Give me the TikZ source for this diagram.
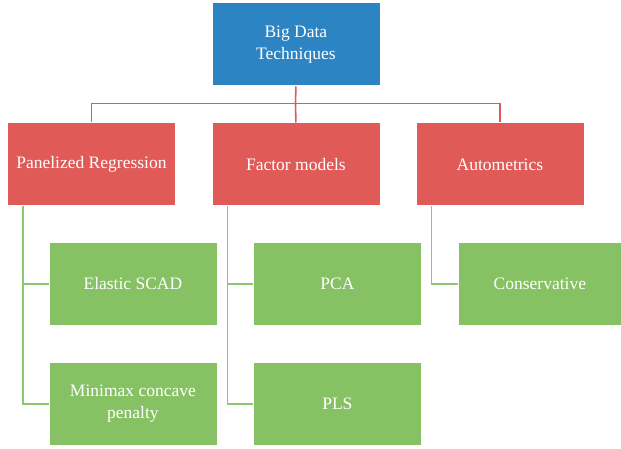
\documentclass[tikz,border=0pt]{standalone}
\usepackage{fontspec}
\setmainfont{Liberation Serif}
\definecolor{topblue}{HTML}{2C84C3}
\definecolor{boxred}{HTML}{E05A57}
\definecolor{boxgreen}{HTML}{86C164}
\definecolor{linered}{HTML}{E0595A}
\definecolor{linegreen}{HTML}{8CC870}
\begin{document}
\begin{tikzpicture}[x=1pt,y=-1pt,
  box/.style={draw=white,line width=0.8pt,minimum width=168pt,minimum height=83pt,
    text=white,font=\fontsize{17.5}{22}\selectfont,align=center,inner sep=2pt,anchor=north west},
  topbox/.style={box,fill=topblue},
  redbox/.style={box,fill=boxred},
  greenbox/.style={box,fill=boxgreen},
  redline/.style={draw=linered,line width=1.6pt},
  greenline/.style={draw=linegreen,line width=1.6pt}]
\useasboundingbox (0,0) rectangle (621,449);
\node[topbox] (top) at (211.5,2.5) {Big Data\\Techniques};
\node[redbox] (pr) at (7,122.5) {Panelized Regression};
\node[redbox] (fm) at (211.5,122.5) {Factor models};
\node[redbox] (am) at (415.5,122.5) {Autometrics};
\node[greenbox] (es) at (48.5,242) {Elastic SCAD};
\node[greenbox] (mm) at (48.5,362) {Minimax concave\\penalty};
\node[greenbox] (pca) at (253,242) {PCA};
\node[greenbox] (pls) at (253,362) {PLS};
\node[greenbox,minimum width=164pt] (cons) at (457.5,242) {Conservative};
\coordinate (hub) at (295.5,103.5);
\draw[redline] (top.south) -- (hub);
\draw[redline] (hub) -| (pr.north);
\draw[redline] (hub) -- (fm.north);
\draw[redline] (hub) -| (am.north);
\draw[greenline] ([xshift=16pt]pr.south west) |- (es.west);
\draw[greenline] ([xshift=16pt]pr.south west) |- (mm.west);
\draw[greenline] ([xshift=16pt]fm.south west) |- (pca.west);
\draw[greenline] ([xshift=16pt]fm.south west) |- (pls.west);
\draw[greenline] ([xshift=16pt]am.south west) |- (cons.west);
\end{tikzpicture}
\end{document}
